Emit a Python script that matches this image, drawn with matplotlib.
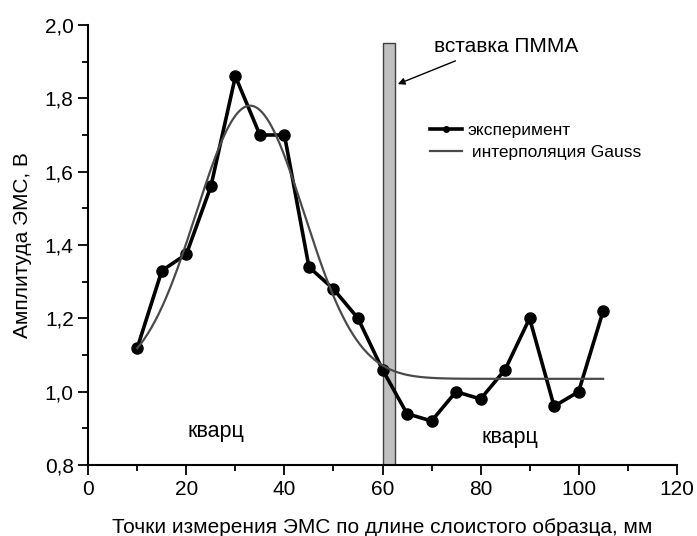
import numpy as np
import matplotlib
matplotlib.use("Agg")
import matplotlib.pyplot as plt
from matplotlib.ticker import MultipleLocator, FuncFormatter

plt.rcParams['font.family'] = ['Liberation Sans', 'DejaVu Sans']

x_exp = [10, 15, 20, 25, 30, 35, 40, 45, 50, 55, 60, 65, 70, 75, 80, 85, 90, 95, 100, 105]
y_exp = [1.12, 1.33, 1.375, 1.56, 1.86, 1.70, 1.70, 1.34, 1.28, 1.20, 1.06, 0.94, 0.92, 1.00, 0.98, 1.06, 1.20, 0.96, 1.00, 1.22]

# Gauss fit parameters (baseline, centre, sigma, amplitude)
g_y0, g_xc, g_sigma, g_amp = 1.035, 33.0, 11.0, 0.745
g_xmin, g_xmax = 10, 105

pmma_x0, pmma_width, pmma_top = 60.0, 2.5, 1.95

fig = plt.figure(figsize=(6.97, 5.36), dpi=100)
ax = fig.add_axes([88.3/697, (536-465)/536, (676.7-88.3)/697, (465-25)/536])

xf = np.linspace(g_xmin, g_xmax, 400)
yf = g_y0 + g_amp * np.exp(-(xf - g_xc)**2 / (2 * g_sigma**2))

ax.bar(pmma_x0, pmma_top - 0.8, width=pmma_width, bottom=0.8, align='edge',
       color='#c0c0c0', edgecolor='#404040', linewidth=1.0, zorder=2)

ax.plot(x_exp, y_exp, color='black', lw=2.6, marker='o', ms=8, zorder=3,
        label='эксперимент')
ax.plot(xf, yf, color='#4a4a4a', lw=1.6, zorder=4, label=' интерполяция Gauss')

ax.set_xlim(0, 120)
ax.set_ylim(0.8, 2.0)
ax.xaxis.set_major_locator(MultipleLocator(20))
ax.xaxis.set_minor_locator(MultipleLocator(10))
ax.yaxis.set_major_locator(MultipleLocator(0.2))
ax.yaxis.set_minor_locator(MultipleLocator(0.1))
ax.yaxis.set_major_formatter(FuncFormatter(lambda v, p: f"{v:.1f}".replace('.', ',')))
ax.spines['top'].set_visible(False)
ax.spines['right'].set_visible(False)
for s in ('left', 'bottom'):
    ax.spines[s].set_linewidth(1.5)
ax.tick_params(which='major', direction='out', length=7, width=1.3, labelsize=15)
ax.tick_params(which='minor', direction='out', length=4, width=1.3)

ax.set_xlabel('Точки измерения ЭМС по длине слоистого образца, мм', fontsize=15, labelpad=14)
ax.set_ylabel('Амплитуда ЭМС, В', fontsize=15, labelpad=9)

ax.text(26, 0.89, 'кварц', fontsize=15.5, ha='center', va='center')
ax.text(86, 0.875, 'кварц', fontsize=15.5, ha='center', va='center')
ax.text(70.5, 1.94, 'вставка ПММА', fontsize=15, ha='left', va='center')
ax.annotate('', xy=(62.6, 1.836), xytext=(75.4, 1.905),
            arrowprops=dict(arrowstyle='-|>', color='black', lw=1.0, mutation_scale=10))

leg = ax.legend(loc='upper left', bbox_to_anchor=(0.581, 0.777), frameon=False,
                fontsize=12.5, handlelength=1.85, handletextpad=0.3, labelspacing=0.4,
                borderpad=0, borderaxespad=0, markerscale=0.5)

fig.savefig('out.png', dpi=100)
